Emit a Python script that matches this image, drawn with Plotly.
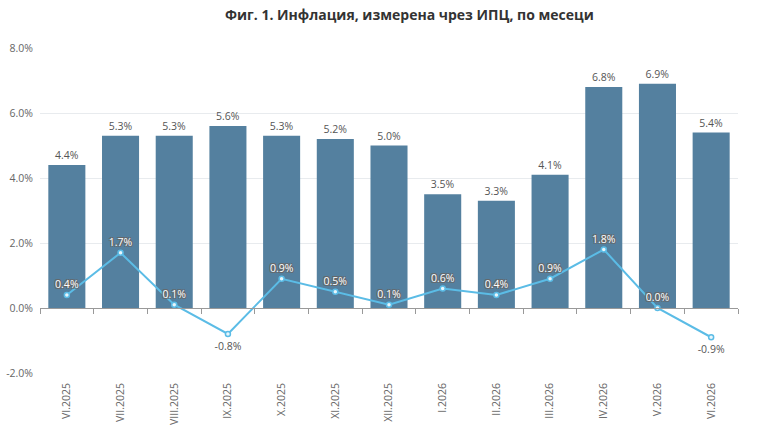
import plotly.graph_objects as go

categories = ["VI.2025", "VII.2025", "VIII.2025", "IX.2025", "X.2025", "XI.2025", "XII.2025",
              "I.2026", "II.2026", "III.2026", "IV.2026", "V.2026", "VI.2026"]
annual = [4.4, 5.3, 5.3, 5.6, 5.3, 5.2, 5.0, 3.5, 3.3, 4.1, 6.8, 6.9, 5.4]
monthly = [0.4, 1.7, 0.1, -0.8, 0.9, 0.5, 0.1, 0.6, 0.4, 0.9, 1.8, 0.0, -0.9]
y_ticks = [-2, 0, 2, 4, 6, 8]

BAR = "#54809f"
LINE = "#5bbce6"
FONT = "Open Sans"

fig = go.Figure()
fig.add_trace(go.Bar(
    x=categories, y=annual, marker=dict(color=BAR, line=dict(width=0)),
    text=[f"{v:.1f}%" for v in annual], textposition="outside",
    textfont=dict(color="#555555", size=10.5, family=FONT), cliponaxis=False,
))
fig.add_trace(go.Scatter(
    x=categories, y=monthly, mode="lines+markers",
    line=dict(color=LINE, width=2),
    marker=dict(size=5, color="#e8f6fc", line=dict(color=LINE, width=1.5)),
))
pos = [(c, v) for c, v in zip(categories, monthly) if v >= 0]
neg = [(c, v) for c, v in zip(categories, monthly) if v < 0]
fig.add_trace(go.Scatter(
    x=[c for c, _ in pos], y=[v for _, v in pos], mode="markers+text",
    marker=dict(size=5, opacity=0),
    text=[f"{v:.1f}%" for _, v in pos], textposition="top center",
    textfont=dict(color="white", size=10.5, family=FONT,
                  shadow="-1px -1px 0 #666, 1px -1px 0 #666, -1px 1px 0 #666, 1px 1px 0 #666"),
    cliponaxis=False, hoverinfo="skip",
))
fig.add_trace(go.Scatter(
    x=[c for c, _ in neg], y=[v for _, v in neg], mode="markers+text",
    marker=dict(size=11, opacity=0),
    text=[f"{v:.1f}%" for _, v in neg], textposition="bottom center",
    textfont=dict(color="#555555", size=10.5, family=FONT), cliponaxis=False,
    hoverinfo="skip",
))
# zero axis line with boundary ticks
fig.add_trace(go.Scatter(x=[-0.5, len(categories) - 0.5], y=[0, 0], xaxis="x2",
                         mode="lines", line=dict(width=0), hoverinfo="skip"))

fig.update_layout(
    width=768, height=432, showlegend=False,
    paper_bgcolor="white", plot_bgcolor="white",
    margin=dict(l=40, r=30, t=48, b=59),
    bargap=0.31,
    font=dict(family=FONT, color="#666666"),
    title=dict(text="<b>Фиг. 1. Инфлация, измерена чрез ИПЦ, по месеци</b>",
               x=0.533, xanchor="center", y=0.965, yanchor="middle",
               font=dict(size=14, color="#333333", family=FONT)),
    xaxis=dict(type="category", tickangle=-90, showgrid=False, showline=False,
               ticks="", tickfont=dict(size=10.5, color="#666666"), automargin=False,
               ticklabelstandoff=7,
               range=[-0.5, len(categories) - 0.5]),
    xaxis2=dict(overlaying="x", anchor="free", position=0.2, range=[-0.5, len(categories) - 0.5],
                showline=True, linecolor="#999999", linewidth=1,
                tickvals=[i - 0.5 for i in range(len(categories) + 1)],
                ticks="outside", ticklen=5, tickcolor="#999999", automargin=False,
                showticklabels=False, showgrid=False, zeroline=False),
    yaxis=dict(range=[-2, 8], tickvals=y_ticks, ticktext=[f"{t:.1f}%" for t in y_ticks],
               showgrid=True, gridcolor="#e8ebee", zeroline=False, automargin=False,
               tickfont=dict(size=10.5, color="#666666"), ticks="", ticklabelstandoff=6),
)

fig.write_html("out.html")
